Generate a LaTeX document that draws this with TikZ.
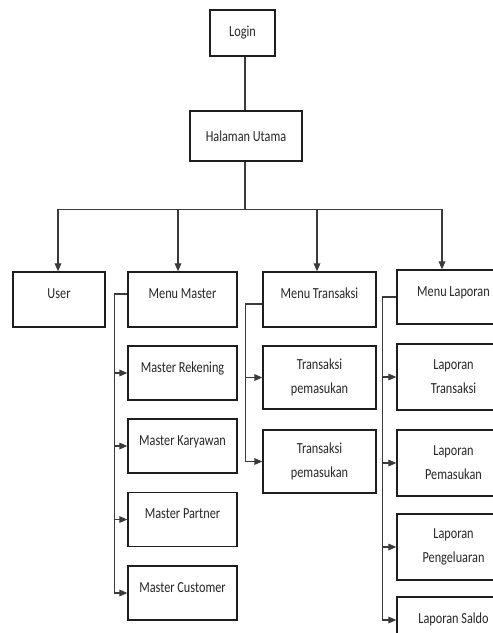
\documentclass[tikz,border=0pt]{standalone}
\usepackage{fontspec}
\setmainfont{Carlito}[FakeStretch=0.8]
\usetikzlibrary{arrows.meta, calc}
\usepackage{xcolor}
\definecolor{hlink}{HTML}{3A3A3A}
\definecolor{hbox}{HTML}{1E1E1E}

\begin{document}
\begin{tikzpicture}[
    x=0.75pt, y=-0.75pt,
    box/.style={
        rectangle,
        draw=hbox,
        line width=1pt,
        inner sep=0pt,
        font=\fontsize{11.5}{18}\selectfont,
        text=black!85
    },
    single/.style={
        text height=8pt,
        text depth=9pt
    },
    double/.style={
        align=center
    },
    link/.style={
        line width=0.9pt,
        hlink
    },
    arrow/.style={
        -{Triangle[length=6pt, width=5pt]},
        line width=0.9pt,
        hlink
    }
]

\useasboundingbox (0,0) rectangle (493,633);
\clip (0,0) rectangle (493,633);

% Top
\node[box, minimum width=48.75pt, minimum height=34.5pt] (login) at (242.5,33) {Login};
\node[box, minimum width=84pt, minimum height=37.5pt] (utama) at (246,136) {Halaman Utama};

% Menus
\node[box, single, minimum width=69pt, minimum height=41.25pt] (user) at (59,299.5) {User};
\node[box, single, minimum width=81.75pt, minimum height=41.25pt] (mmaster) at (182.5,299.5) {Menu Master};
\node[box, single, minimum width=84.75pt, minimum height=41.25pt] (mtrans) at (319.5,299.5) {Menu Transaksi};
\node[box, single, minimum width=84.75pt, minimum height=40.5pt] (mlapor) at (453.5,297) {Menu Laporan};

% Master
\node[box, single, minimum width=81.75pt, minimum height=40.5pt] (rekening) at (182.5,373) {Master Rekening};
\node[box, single, minimum width=81.75pt, minimum height=40.5pt] (karyawan) at (182.5,446) {Master Karyawan};
\node[box, single, minimum width=81.75pt, minimum height=40.5pt] (partner) at (182.5,519.5) {Master Partner};
\node[box, single, minimum width=81.75pt, minimum height=40.5pt] (customer) at (182.5,593) {Master Customer};

% Transaksi
\node[box, double, minimum width=84.75pt, minimum height=47.25pt] (transa) at (319.5,377.5) {Transaksi\\pemasukan};
\node[box, double, minimum width=84.75pt, minimum height=47.25pt] (transb) at (319.5,461.5) {Transaksi\\pemasukan};

% Laporan
\node[box, double, minimum width=84.75pt, minimum height=49.5pt] (laptrans) at (453.5,377) {Laporan\\Transaksi};
\node[box, double, minimum width=84.75pt, minimum height=49.5pt] (lapmasuk) at (453.5,463) {Laporan\\Pemasukan};
\node[box, double, minimum width=84.75pt, minimum height=49.5pt] (lapkeluar) at (453.5,547) {Laporan\\Pengeluaran};
\node[box, single, minimum width=84.75pt, minimum height=41.25pt] (lapsaldo) at (453.5,624.5) {Laporan Saldo};

% Login -> Halaman Utama
\draw[link] ($(login.south)+(2.5,0)$) -- ($(login.south |- utama.north)+(2.5,0)$);

% Halaman Utama -> menus
\coordinate (bus) at ($(utama.south)+(-1,48)$);
\draw[link] ($(utama.south)+(-1,0)$) -- (bus);
\draw[arrow] (bus) -| ($(user.north)+(-1,0)$);
\draw[arrow] (bus) -| ($(mmaster.north)+(-4.5,0)$);
\draw[arrow] (bus) -| ($(mtrans.north)+(-2.5,0)$);
\draw[arrow] (bus) -| ($(mlapor.north)+(-11.5,0)$);

% Menu Master -> children
\coordinate (mm) at ($(mmaster.west)+(-13,-5.5)$);
\draw[link] ($(mmaster.west)+(0,-5.5)$) -- (mm);
\draw[arrow] (mm) |- (rekening.west);
\draw[arrow] (mm) |- (karyawan.west);
\draw[arrow] (mm) |- (partner.west);
\draw[arrow] (mm) |- (customer.west);

% Menu Transaksi -> children
\coordinate (mt) at ($(mtrans.west)+(-17,4.5)$);
\draw[link] ($(mtrans.west)+(0,4.5)$) -- (mt);
\draw[arrow] (mt) |- (transa.west);
\draw[arrow] (mt) |- (transb.west);

% Menu Laporan -> children
\coordinate (ml) at ($(mlapor.west)+(-14,0)$);
\draw[link] (mlapor.west) -- (ml);
\draw[arrow] (ml) |- (laptrans.west);
\draw[arrow] (ml) |- (lapmasuk.west);
\draw[arrow] (ml) |- (lapkeluar.west);
\draw[arrow] (ml) |- ($(lapsaldo.west)+(0,-4.5)$);

\end{tikzpicture}
\end{document}
